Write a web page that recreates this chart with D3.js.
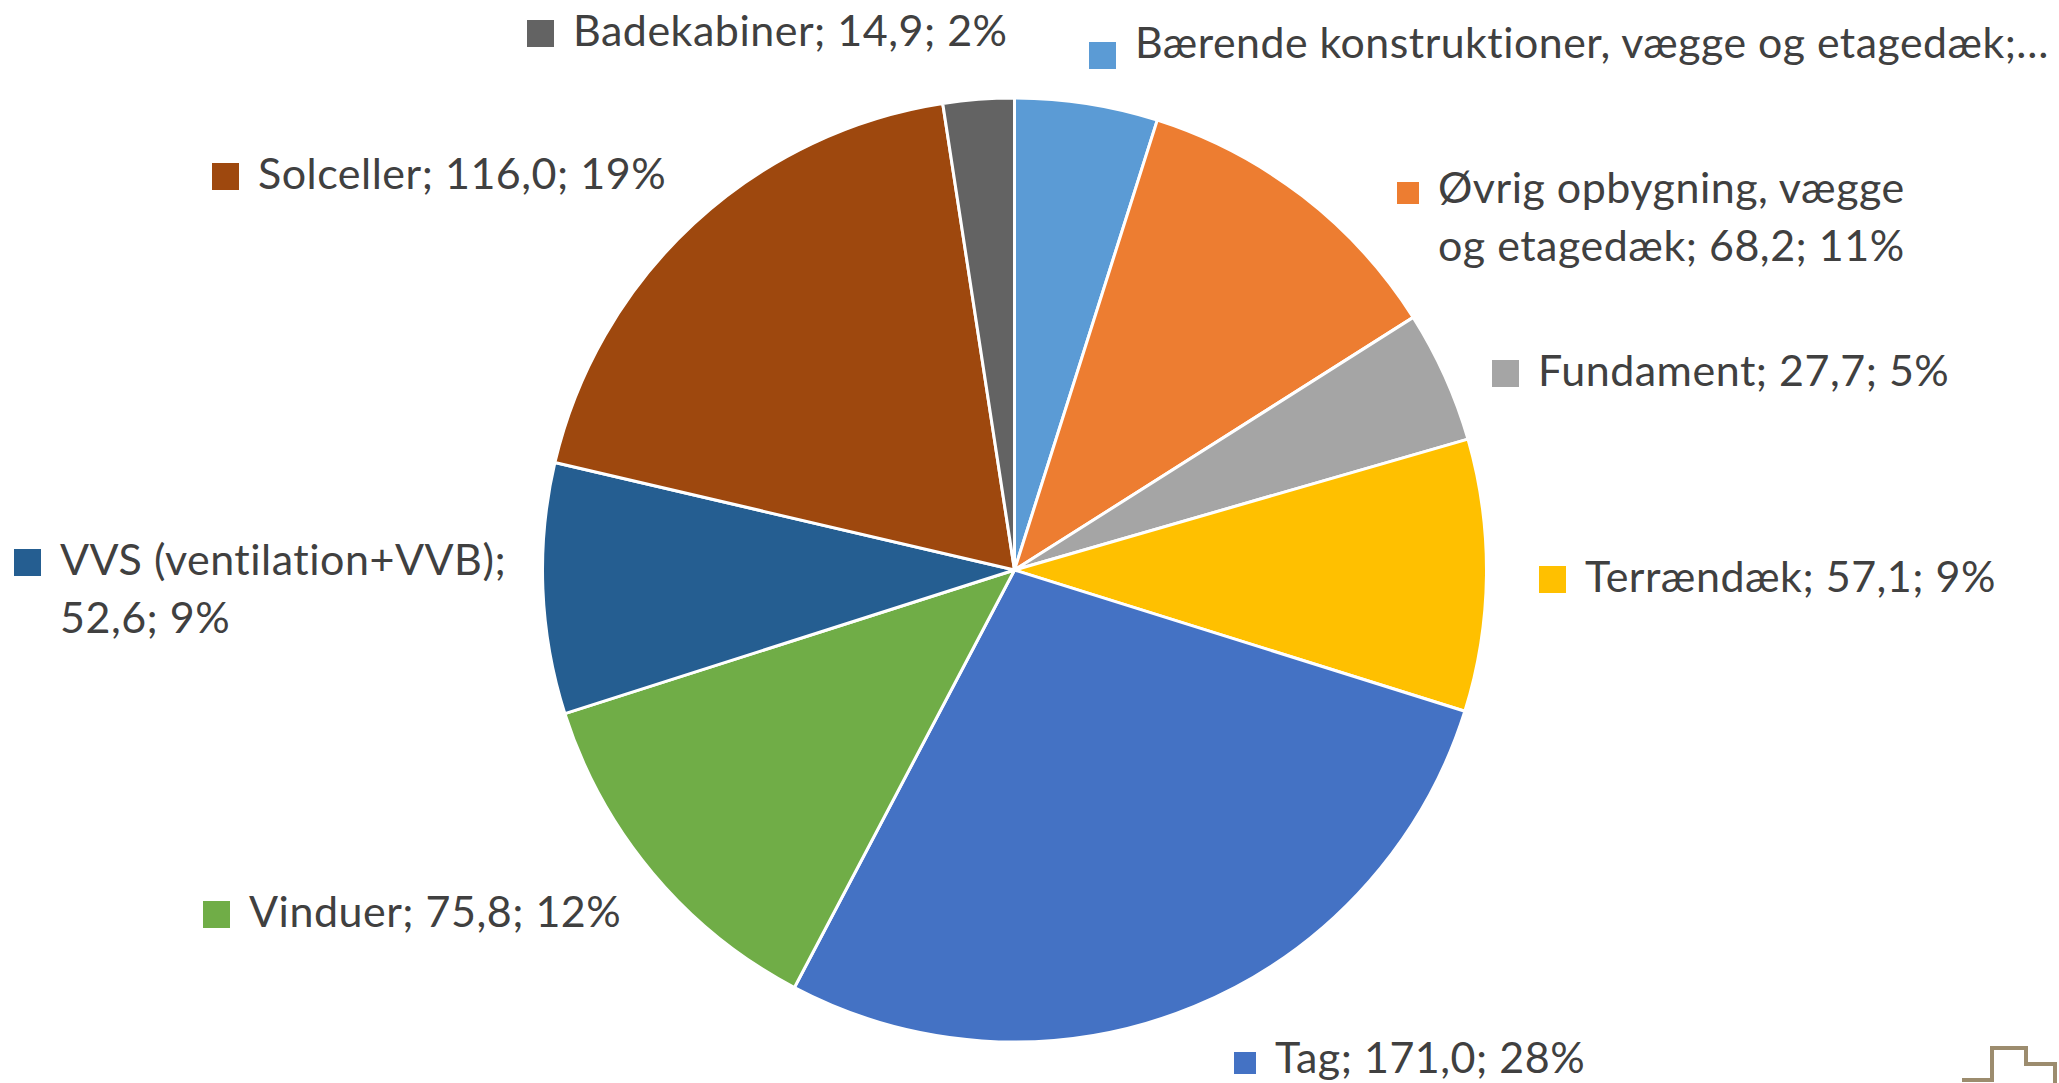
<!DOCTYPE html>
<html>
<head>
<meta charset="utf-8">
<script src="https://cdn.jsdelivr.net/npm/d3@7.9.0/dist/d3.min.js"></script>
<style>
  html, body { margin: 0; padding: 0; background: #fff; }
  svg { display: block; }
  .label text { font-family: Lato, "Open Sans", sans-serif; font-size: 43px; letter-spacing: 0.5px; fill: #404040; }
</style>
</head>
<body>
<svg id="chart" width="2059" height="1083"></svg>
<script>
// data, clockwise from 12 o'clock
const categories = [
  'Bærende konstruktioner, vægge og etagedæk',
  'Øvrig opbygning, vægge og etagedæk',
  'Fundament',
  'Terrændæk',
  'Tag',
  'Vinduer',
  'VVS (ventilation+VVB)',
  'Solceller',
  'Badekabiner'
];
const values = [30.0, 68.2, 27.7, 57.1, 171.0, 75.8, 52.6, 116.0, 14.9];
const colors = ['#5b9bd5', '#ed7d31', '#a5a5a5', '#ffc000', '#4472c4', '#70ad47', '#255e91', '#9e480e', '#636363'];

// where Excel put each data label (text start x, first baseline y)
const labelLayout = [
  { x: 1135, y: 58, swatch: 27, swatchDrop: 10, truncate: true },
  { x: 1438, y: 203, swatch: 22, wrapAfter: 3 },
  { x: 1538, y: 386 },
  { x: 1585, y: 592 },
  { x: 1275, y: 1073, swatch: 22 },
  { x: 249, y: 927 },
  { x: 60, y: 575, wrapAfter: 2 },
  { x: 258, y: 189 },
  { x: 573, y: 46 }
];

const width = 2059, height = 1083;
const cx = 1014.5, cy = 570, radius = 472;
const lineHeight = 58;

const svg = d3.select('#chart');
const total = d3.sum(values);
const fmt = v => v.toFixed(1).replace('.', ',');

const pieData = categories.map((name, i) => ({ name, value: values[i], color: colors[i] }));
const arcs = d3.pie().sort(null).value(d => d.value)(pieData);
const arcGen = d3.arc().innerRadius(0).outerRadius(radius);

svg.append('g')
  .attr('transform', `translate(${cx},${cy})`)
  .selectAll('path')
  .data(arcs)
  .enter()
  .append('path')
  .attr('d', arcGen)
  .attr('fill', d => d.data.color)
  .attr('stroke', '#fff')
  .attr('stroke-width', 3)
  .attr('stroke-linejoin', 'round');

const labels = svg.append('g')
  .selectAll('g.label')
  .data(arcs)
  .enter()
  .append('g')
  .attr('class', 'label');

labels.each(function (d, i) {
  const lay = labelLayout[i];
  const g = d3.select(this);
  const pct = Math.round(d.data.value / total * 100) + '%';
  let full = `${d.data.name}; ${fmt(d.data.value)}; ${pct}`;
  let lines = [full];
  if (lay.truncate) {
    lines = [`${d.data.name};…`];
  } else if (lay.wrapAfter) {
    const words = full.split(' ');
    lines = [words.slice(0, lay.wrapAfter).join(' '), words.slice(lay.wrapAfter).join(' ')];
  }
  const s = lay.swatch || 27;
  g.append('rect')
    .attr('x', lay.x - 19 - s)
    .attr('y', lay.y + (lay.swatchDrop || 0) - s + 1)
    .attr('width', s)
    .attr('height', s)
    .attr('fill', d.data.color);
  const t = g.append('text').attr('x', lay.x).attr('y', lay.y);
  lines.forEach((ln, k) => {
    const span = t.append('tspan').attr('x', lay.x).attr('y', lay.y + k * lineHeight).text(ln);
    // truncated label must stay inside the chart area
    const room = width - lay.x - 10;
    if (span.node().getComputedTextLength() > room) {
      span.attr('textLength', room).attr('lengthAdjust', 'spacingAndGlyphs');
    }
  });
});

// corner mark of the slide template
svg.append('path')
  .attr('d', 'M1962,1080 H1992 V1048 H2026 V1064 H2055 V1083')
  .attr('fill', 'none')
  .attr('stroke', '#9c8c6e')
  .attr('stroke-width', 4);
</script>
</body>
</html>
